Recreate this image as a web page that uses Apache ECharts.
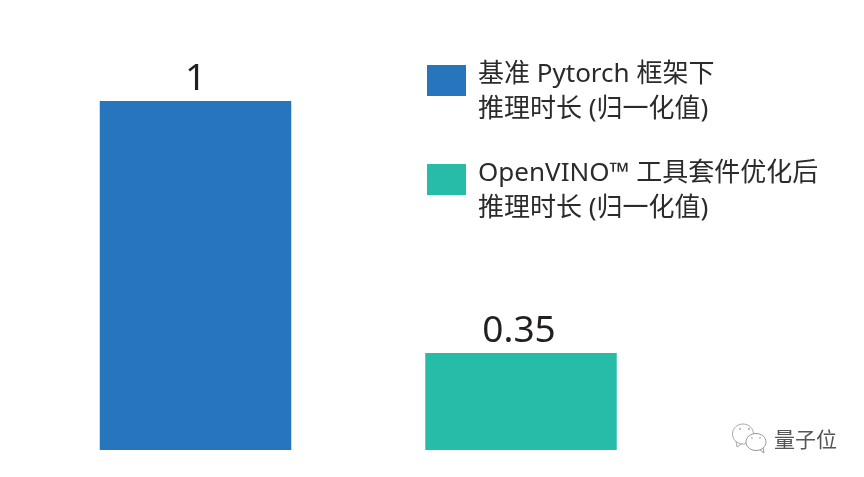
<!DOCTYPE html>
<html><head><meta charset="utf-8">
<style>html,body{margin:0;padding:0;background:#fff}#c{width:864px;height:477px}</style>
<script src="https://cdn.jsdelivr.net/npm/echarts@6/dist/echarts.min.js"></script>
</head><body><div id="c"></div>
<script>
const categories = ['基准', 'OpenVINO'];
const baselineName = '基准 Pytorch 框架下';
const openvinoName = 'OpenVINO™ 工具套件优化后';
const legendSecondLine = '推理时长 (归一化值)';
const baselineValues = [1, null];
const openvinoValues = [null, 0.35];
const axisMin = 0.1, axisMax = 1;
const watermark = '量子位';
const FONT = '"Noto Sans","Noto Sans CJK SC",sans-serif';
const chart = echarts.init(document.getElementById('c'), null, {renderer: 'canvas'});
const label = {show: true, position: 'top', distance: 3.5, fontSize: 37, fontFamily: FONT, color: '#231f20'};
chart.setOption({
  animation: false,
  backgroundColor: '#fff',
  grid: {left: 32.75, width: 651, top: 101, height: 349},
  xAxis: {type: 'category', data: categories, show: false},
  yAxis: {type: 'value', min: axisMin, max: axisMax, show: false},
  legend: {
    left: 427, top: 33.5, padding: 0, orient: 'vertical', itemWidth: 39, itemHeight: 31, itemGap: 5,
    icon: 'rect', selectedMode: false,
    formatter: n => `{s|}\n{a|${n}}\n{a|${legendSecondLine}}`,
    textStyle: {
      rich: {
        s: {height: 24, lineHeight: 24, fontSize: 10},
        a: {fontSize: 26, lineHeight: 35, height: 35, padding: [0, 0, 0, 7], fontFamily: FONT, color: '#2b2b2b'}
      }
    },
    data: [baselineName, openvinoName]
  },
  series: [
    {name: baselineName, type: 'bar', barWidth: 191.5, barGap: '-100%', data: baselineValues,
     itemStyle: {color: '#2776bd'}, label},
    {name: openvinoName, type: 'bar', barWidth: 191.5, barGap: '-100%', data: openvinoValues,
     itemStyle: {color: '#27bca8'}, label: {...label, offset: [-2, 0]}}
  ],
  graphic: [
    {type: 'text', left: 774, top: 429, style: {text: watermark, fontSize: 21, fontFamily: '"Noto Sans CJK SC"', fill: '#555'}},
    {type: 'polygon', shape: {points: [[736, 441], [737, 447], [743, 443]]}, style: {fill: '#fff', stroke: '#aaa', lineWidth: 1}},
    {type: 'ellipse', shape: {cx: 743, cy: 434, rx: 10.5, ry: 10}, style: {fill: '#fff', stroke: '#aaa', lineWidth: 1}},
    {type: 'polygon', shape: {points: [[759, 449], [764, 453], [763, 447]]}, style: {fill: '#fff', stroke: '#999', lineWidth: 1}},
    {type: 'ellipse', shape: {cx: 756, cy: 442, rx: 10, ry: 8.5}, style: {fill: '#fff', stroke: '#999', lineWidth: 1}},
    {type: 'circle', shape: {cx: 740, cy: 429, r: 1}, style: {fill: '#aaa'}},
    {type: 'circle', shape: {cx: 749, cy: 429, r: 1}, style: {fill: '#aaa'}},
    {type: 'circle', shape: {cx: 752, cy: 438, r: 0.8}, style: {fill: '#999'}},
    {type: 'circle', shape: {cx: 760, cy: 438, r: 0.8}, style: {fill: '#999'}}
  ]
});
</script></body></html>
